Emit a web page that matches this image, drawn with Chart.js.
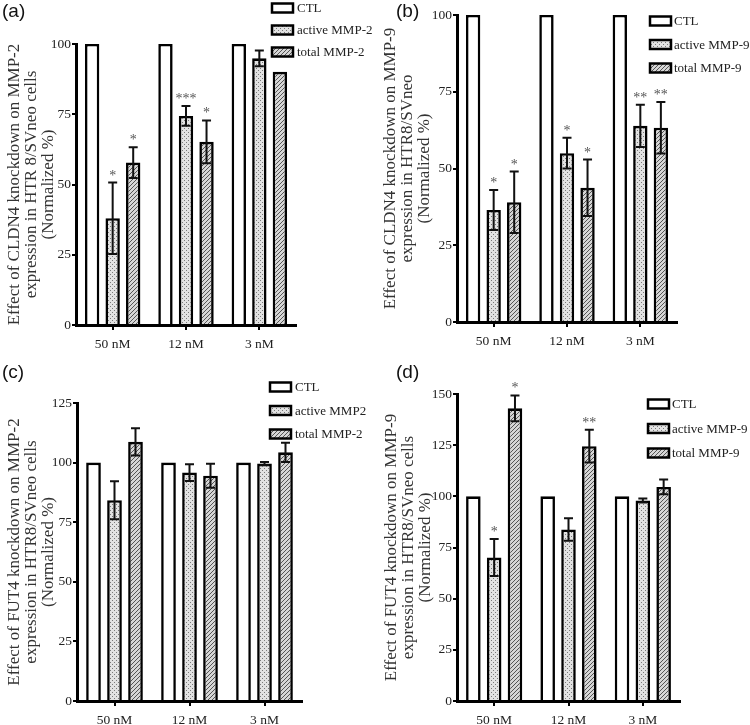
<!DOCTYPE html>
<html><head><meta charset="utf-8">
<script src="https://cdn.jsdelivr.net/npm/chart.js@4.4.0/dist/chart.umd.min.js"></script>
<style>
html,body{margin:0;padding:0;background:#fff;}
#wrap{position:relative;width:750px;height:725px;overflow:hidden;background:#fff;}
.panel{position:absolute;}
.lbl{position:absolute;font-family:"Liberation Sans",Arial,sans-serif;font-size:19px;line-height:20px;color:#111;}
</style></head><body>
<div id="wrap">
  <div class="panel" style="left:0;top:0;"><canvas id="ca" width="375" height="360"></canvas></div>
  <div class="panel" style="left:375px;top:0;"><canvas id="cb" width="375" height="360"></canvas></div>
  <div class="panel" style="left:0;top:360px;"><canvas id="cc" width="375" height="365"></canvas></div>
  <div class="panel" style="left:375px;top:360px;"><canvas id="cd" width="375" height="365"></canvas></div>
  <div class="lbl" style="left:2px;top:1px;">(a)</div>
  <div class="lbl" style="left:396px;top:1px;">(b)</div>
  <div class="lbl" style="left:2px;top:362px;">(c)</div>
  <div class="lbl" style="left:396px;top:362px;">(d)</div>
</div>
<script>
// ---------- DATA ----------
const categories = ['50 nM', '12 nM', '3 nM'];

// panel (a)
const aLegend = ['CTL', 'active MMP-2', 'total MMP-2'];
const aTitle = ['Effect of CLDN4 knockdown on MMP-2', 'expression in HTR 8/SVneo cells', '(Normalized %)'];
const aTicks = [0, 25, 50, 75, 100];
const aCTL = [100, 100, 100];
const aActive = [38, 74.4, 94.9];
const aActiveErr = [12.7, 3.5, 2.8];
const aTotal = [57.8, 65.2, 90.1];
const aTotalErr = [5.5, 7.6, 0];
const aActiveSig = ['*', '***', ''];
const aTotalSig = ['*', '*', ''];

// panel (b)
const bLegend = ['CTL', 'active MMP-9', 'total MMP-9'];
const bTitle = ['Effect of CLDN4 knockdown on MMP-9', 'expression in HTR8/SVneo', '(Normalized %)'];
const bTicks = [0, 25, 50, 75, 100];
const bCTL = [100, 100, 100];
const bActive = [36.5, 55, 63.9];
const bActiveErr = [6.5, 5, 6.9];
const bTotal = [39, 43.7, 63.3];
const bTotalErr = [10, 9.2, 8.4];
const bActiveSig = ['*', '*', '**'];
const bTotalSig = ['*', '*', '**'];

// panel (c)
const cLegend = ['CTL', 'active MMP2', 'total MMP-2'];
const cTitle = ['Effect of FUT4 knockdown on MMP-2', 'expression in HTR8/SVneo cells', '(Normalized %)'];
const cTicks = [0, 25, 50, 75, 100, 125];
const cCTL = [100, 100, 100];
const cActive = [84.2, 95.8, 99.6];
const cActiveErr = [8, 3.5, 0.7];
const cTotal = [108.7, 94.5, 104.3];
const cTotalErr = [5.7, 5, 4];
const cActiveSig = ['', '', ''];
const cTotalSig = ['', '', ''];

// panel (d)
const dLegend = ['CTL', 'active MMP-9', 'total MMP-9'];
const dTitle = ['Effect of FUT4 knockdown on MMP-9', 'expression in HTR8/SVneo cells', '(Normalized %)'];
const dTicks = [0, 25, 50, 75, 100, 125, 150];
const dCTL = [100, 100, 100];
const dActive = [70.1, 83.8, 98];
const dActiveErr = [9, 5.5, 1];
const dTotal = [143, 124.5, 104.6];
const dTotalErr = [6.3, 8, 3.6];
const dActiveSig = ['*', '', ''];
const dTotalSig = ['*', '**', ''];

// ---------- STYLE ----------
const SERIF = '"Liberation Serif", "Times New Roman", serif';
const TEXT = '#222';

function dotPattern() {
  const c = document.createElement('canvas'); c.width = 4; c.height = 4;
  const x = c.getContext('2d');
  x.fillStyle = '#e2e2e2'; x.fillRect(0, 0, 4, 4);
  x.fillStyle = '#7a7a7a'; x.fillRect(0, 0, 1, 1); x.fillRect(2, 2, 1, 1);
  return x.createPattern(c, 'repeat');
}
function hatchPattern() {
  const c = document.createElement('canvas'); c.width = 4; c.height = 4;
  const x = c.getContext('2d');
  x.fillStyle = '#d6d6d6'; x.fillRect(0, 0, 4, 4);
  x.fillStyle = '#555555';
  for (let i = 0; i < 4; i++) x.fillRect(i, 3 - i, 1, 1);
  return x.createPattern(c, 'repeat');
}
const DOTS = dotPattern();
const HATCH = hatchPattern();
const FILLS = ['#ffffff', DOTS, HATCH];

const errPlugin = {
  id: 'errbars',
  afterDatasetsDraw(chart, args, opts) {
    const ctx = chart.ctx, y = chart.scales.y;
    ctx.save();
    opts.series.forEach(s => {
      const meta = chart.getDatasetMeta(s.ds);
      const vals = chart.data.datasets[s.ds].data;
      meta.data.forEach((bar, i) => {
        const v = vals[i], e = s.err[i];
        let top = y.getPixelForValue(v);
        if (e > 0) {
          const yt = y.getPixelForValue(v + e), yb = y.getPixelForValue(v - e);
          ctx.strokeStyle = '#111'; ctx.lineWidth = 2;
          ctx.beginPath();
          ctx.moveTo(bar.x, yt); ctx.lineTo(bar.x, yb);
          ctx.moveTo(bar.x - 4.5, yt); ctx.lineTo(bar.x + 4.5, yt);
          ctx.moveTo(bar.x - 4.5, yb); ctx.lineTo(bar.x + 4.5, yb);
          ctx.stroke();
          top = yt;
        }
        const sg = s.sig[i];
        if (sg) {
          ctx.fillStyle = '#555'; ctx.font = '14px ' + SERIF;
          ctx.textAlign = 'center'; ctx.textBaseline = 'alphabetic';
          ctx.fillText(sg, bar.x, top - 3);
        }
      });
    });
    ctx.restore();
  }
};

const legendPlugin = {
  id: 'boxlegend',
  afterDraw(chart, args, opts) {
    const ctx = chart.ctx;
    ctx.save();
    chart.data.datasets.forEach((ds, i) => {
      const cy = opts.y + i * opts.dy;
      ctx.fillStyle = FILLS[i];
      ctx.fillRect(opts.x, cy - 4.5, 21, 9);
      ctx.strokeStyle = '#000'; ctx.lineWidth = 2.5;
      ctx.strokeRect(opts.x, cy - 4.5, 21, 9);
      ctx.fillStyle = TEXT; ctx.font = '13px ' + SERIF;
      ctx.textAlign = 'left'; ctx.textBaseline = 'middle';
      ctx.fillText(ds.label, opts.tx, cy + 1);
    });
    ctx.restore();
  }
};

function makeChart(id, cfg) {
  const canvas = document.getElementById(id);
  const W = canvas.width, H = canvas.height;
  const A = cfg.area; // chart area [left, top, right, bottom] within canvas
  const ticksArr = cfg.ticks;
  const datasets = [
    { label: cfg.legend[0], data: cfg.ctl },
    { label: cfg.legend[1], data: cfg.active },
    { label: cfg.legend[2], data: cfg.total }
  ].map((d, i) => Object.assign(d, {
    backgroundColor: FILLS[i], borderColor: '#000', borderWidth: 2.6, borderSkipped: 'start',
    categoryPercentage: 0.84, barPercentage: 0.7
  }));
  return new Chart(canvas, {
    type: 'bar',
    data: { labels: categories, datasets },
    plugins: [errPlugin, legendPlugin],
    options: {
      responsive: false, animation: false, devicePixelRatio: 1,
      layout: { padding: { left: 0, top: A[1], right: W - A[2], bottom: 0 } },
      plugins: {
        legend: { display: false }, tooltip: { enabled: false },
        errbars: { series: [
          { ds: 1, err: cfg.activeErr, sig: cfg.activeSig },
          { ds: 2, err: cfg.totalErr, sig: cfg.totalSig }
        ] },
        boxlegend: cfg.leg
      },
      scales: {
        x: {
          afterFit: s => { s.height = H - A[3]; },
          grid: { display: true, drawOnChartArea: false, drawTicks: true, tickLength: 5, offset: false, color: '#000', lineWidth: 2 },
          border: { display: true, color: '#000', width: 3 },
          ticks: { color: TEXT, font: { family: SERIF, size: 13.5 }, padding: 6, maxRotation: 0 }
        },
        y: {
          min: 0, max: ticksArr[ticksArr.length - 1],
          afterBuildTicks: s => { s.ticks = ticksArr.map(v => ({ value: v })); },
          afterFit: s => { s.width = A[0]; },
          grid: { display: true, drawOnChartArea: false, drawTicks: true, tickLength: 4, color: '#000', lineWidth: 2 },
          border: { display: true, color: '#000', width: 3 },
          ticks: { color: TEXT, font: { family: SERIF, size: 13.5 }, padding: 1 },
          title: {
            display: true, text: cfg.title, color: '#333',
            font: { family: SERIF, size: 17, lineHeight: 1.0 },
            padding: { top: cfg.titleX - 8.5, bottom: 0 }
          }
        }
      }
    }
  });
}

makeChart('ca', {
  legend: aLegend, title: aTitle, ticks: aTicks, ctl: aCTL, active: aActive, total: aTotal,
  activeErr: aActiveErr, totalErr: aTotalErr, activeSig: aActiveSig, totalSig: aTotalSig,
  area: [76, 44, 296, 325], titleX: 15, leg: { x: 272, y: 8, dy: 22, tx: 297 }
});
makeChart('cb', {
  legend: bLegend, title: bTitle, ticks: bTicks, ctl: bCTL, active: bActive, total: bTotal,
  activeErr: bActiveErr, totalErr: bTotalErr, activeSig: bActiveSig, totalSig: bTotalSig,
  area: [82, 15, 302, 322], titleX: 16, leg: { x: 275, y: 21, dy: 23.5, tx: 299 }
});
makeChart('cc', {
  legend: cLegend, title: cTitle, ticks: cTicks, ctl: cCTL, active: cActive, total: cTotal,
  activeErr: cActiveErr, totalErr: cTotalErr, activeSig: cActiveSig, totalSig: cTotalSig,
  area: [77, 43, 302, 341], titleX: 15, leg: { x: 270, y: 27, dy: 23.5, tx: 295 }
});
makeChart('cd', {
  legend: dLegend, title: dTitle, ticks: dTicks, ctl: dCTL, active: dActive, total: dTotal,
  activeErr: dActiveErr, totalErr: dTotalErr, activeSig: dActiveSig, totalSig: dTotalSig,
  area: [82, 34, 305, 341], titleX: 16.5, leg: { x: 273, y: 44, dy: 24.5, tx: 297 }
});
</script>
</body></html>
